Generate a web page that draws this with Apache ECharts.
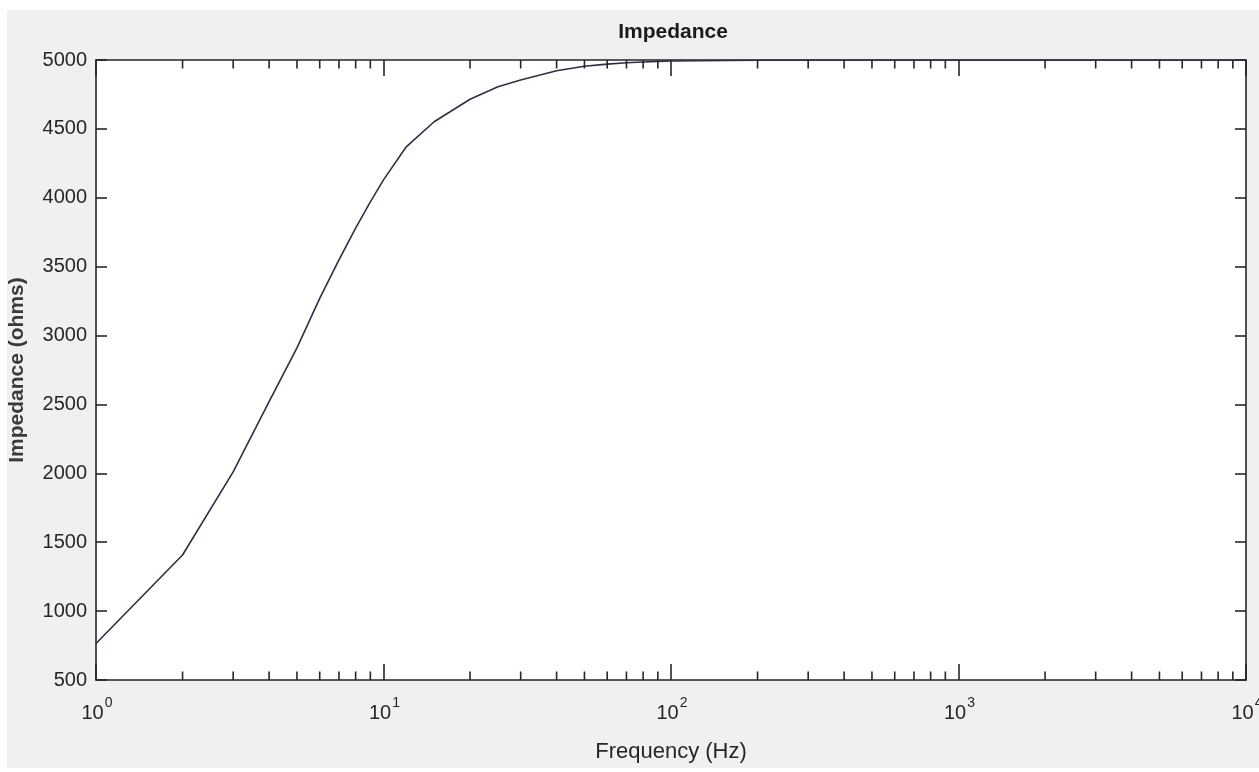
<!DOCTYPE html>
<html>
<head>
<meta charset="utf-8">
<script src="https://cdn.jsdelivr.net/npm/echarts@6/dist/echarts.min.js"></script>
<style>
html,body{margin:0;padding:0;background:#ffffff;}
#bg{position:absolute;left:7px;top:10px;width:1252px;height:758px;background:#f0f0f0;}
#chart{position:absolute;left:0;top:0;width:1259px;height:772px;}
</style>
</head>
<body>
<div id="bg"></div>
<div id="chart"></div>
<script>
// Frequency (Hz) samples and impedance (ohms)
const frequency = [1, 2, 3, 4, 5, 6, 7, 8, 9, 10, 12, 15, 20, 25, 30, 40, 50, 60, 70, 80, 90, 100, 200, 500, 1000, 10000];
const impedance = [765, 1407, 2010, 2520, 2910, 3270, 3550, 3780, 3970, 4130, 4370, 4552, 4715, 4806, 4855, 4922, 4955, 4970, 4980, 4986, 4990, 4993, 4998, 5000, 5000, 5000];
// Minor tick positions of the log axis
const minorTicks = [2,3,4,5,6,7,8,9,20,30,40,50,60,70,80,90,200,300,400,500,600,700,800,900,2000,3000,4000,5000,6000,7000,8000,9000];
const yTicks = {min: 500, max: 5000, interval: 500};
const xRange = {min: 1, max: 10000};

const FONT = "'Liberation Sans', Arial, Helvetica, sans-serif";
const AX = '#262626';

const chart = echarts.init(document.getElementById('chart'), null, {renderer: 'canvas'});

const xLabel = {
  show: true,
  fontFamily: FONT,
  formatter: function (v) {
    const e = Math.round(Math.log10(v));
    return '{pad|}{base|10}{sup|' + e + '}';
  },
  margin: 16,
  rich: {
    base: {fontFamily: FONT, fontSize: 20, color: AX, lineHeight: 20, verticalAlign: 'bottom'},
    sup: {fontFamily: FONT, fontSize: 14, color: AX, lineHeight: 14, verticalAlign: 'top', padding: [0,0,0,1]},
    pad: {width: 2, lineHeight: 27}
  }
};

const option = {
  backgroundColor: 'transparent',
  animation: false,
  title: {
    text: 'Impedance',
    left: 668,
    top: 17,
    textAlign: 'center',
    textStyle: {fontFamily: FONT, fontSize: 21, fontWeight: 'bold', color: '#1a1a1a'}
  },
  grid: {
    left: 96, right: 13, top: 60, bottom: 92, containLabel: false,
    outerBoundsMode: 'none',
    show: true, backgroundColor: '#ffffff', borderWidth: 0
  },
  xAxis: [
    {
      type: 'log', logBase: 10, min: xRange.min, max: xRange.max,
      position: 'bottom',
      name: 'Frequency (Hz)', nameLocation: 'middle', nameGap: 61,
      nameTextStyle: {fontFamily: FONT, fontSize: 22, color: '#262626'},
      axisLine: {show: true, lineStyle: {color: AX, width: 1.6}},
      axisTick: {show: true, inside: true, length: 16, lineStyle: {color: AX, width: 1.6}},
      axisLabel: xLabel,
      splitLine: {show: false}
    },
    {
      type: 'log', logBase: 10, min: xRange.min, max: xRange.max,
      position: 'top',
      axisLine: {show: true, lineStyle: {color: AX, width: 1.6}},
      axisTick: {show: true, inside: true, length: 16, lineStyle: {color: AX, width: 1.6}},
      axisLabel: {show: false},
      splitLine: {show: false}
    }
  ],
  yAxis: [
    {
      type: 'value', min: yTicks.min, max: yTicks.max, interval: yTicks.interval,
      position: 'left',
      name: 'Impedance (ohms)', nameLocation: 'middle', nameGap: 68,
      nameTextStyle: {fontFamily: FONT, fontSize: 21, fontWeight: 'bold', color: '#3a3a3a'},
      axisLine: {show: true, lineStyle: {color: AX, width: 1.6}},
      axisTick: {show: true, inside: true, length: 11, lineStyle: {color: AX, width: 1.6}},
      axisLabel: {fontFamily: FONT, fontSize: 20, color: AX, margin: 9, formatter: function (v) { return String(v); }},
      splitLine: {show: false}
    },
    {
      type: 'value', min: yTicks.min, max: yTicks.max, interval: yTicks.interval,
      position: 'right',
      axisLine: {show: true, lineStyle: {color: AX, width: 1.6}},
      axisTick: {show: true, inside: true, length: 11, lineStyle: {color: AX, width: 1.6}},
      axisLabel: {show: false},
      splitLine: {show: false}
    }
  ],
  series: [
    {
      type: 'line',
      xAxisIndex: 0, yAxisIndex: 0,
      data: frequency.map((f, i) => [f, impedance[i]]),
      showSymbol: false,
      symbol: 'none',
      lineStyle: {color: '#2e2e4a', width: 1.6},
      clip: true,
      z: 3
    },
    {
      type: 'custom',
      xAxisIndex: 0, yAxisIndex: 0,
      data: minorTicks.map(f => [f]),
      clip: false,
      silent: true,
      z: 4,
      renderItem: function (params, api) {
        const f = api.value(0);
        const b = api.coord([f, yTicks.min]);
        const t = api.coord([f, yTicks.max]);
        const len = 8.5;
        const style = {stroke: AX, lineWidth: 1.6};
        return {
          type: 'group',
          children: [
            {type: 'line', shape: {x1: b[0], y1: b[1], x2: b[0], y2: b[1] - len}, style: style},
            {type: 'line', shape: {x1: t[0], y1: t[1], x2: t[0], y2: t[1] + len}, style: style}
          ]
        };
      }
    }
  ]
};
chart.setOption(option);
</script>
</body>
</html>
